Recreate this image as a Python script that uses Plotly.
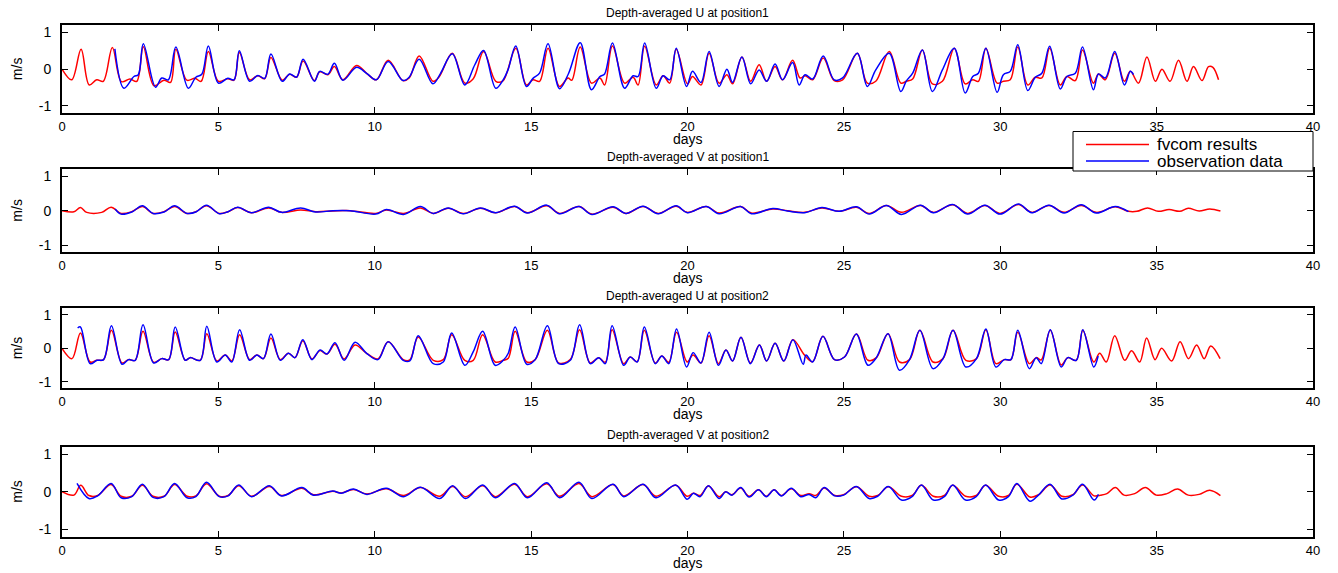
import plotly.graph_objects as go

# ---------------- data (days, m/s) ----------------
u1_fv_t = [0.0,0.31,0.61,0.87,1.11,1.32,1.61,1.9,2.17,2.39,2.6,2.94,3.26,3.47,3.64,3.99,4.25,4.45,4.68,5.0,5.3,5.5,5.67,6.0,6.26,6.48,6.68,7.04,7.28,7.5,7.71,8.07,8.24,8.5,8.71,8.98,9.42,9.75,10.05,10.43,10.9,11.1,11.42,11.86,12.05,12.48,12.88,13.15,13.48,13.87,14.1,14.51,14.85,15.06,15.27,15.54,15.91,16.18,16.3,16.57,16.93,17.2,17.35,17.6,17.99,18.26,18.42,18.63,19.0,19.22,19.43,19.64,20.0,20.16,20.43,20.69,21.01,21.26,21.44,21.74,22.02,22.29,22.53,22.8,23.04,23.36,23.6,23.76,24.0,24.34,24.69,24.96,25.43,25.75,26.02,26.45,26.82,27.0,27.2,27.51,27.83,28.15,28.53,28.88,29.12,29.3,29.54,29.9,30.1,30.32,30.56,30.88,31.12,31.33,31.58,31.92,32.13,32.4,32.63,32.98,33.14,33.36,33.66,33.97,34.16,34.42,34.69,34.96,35.17,35.43,35.7,35.97,36.18,36.45,36.66,36.8,36.98]
u1_fv_v = [0.0,-0.29,0.54,-0.43,-0.29,-0.33,0.59,-0.34,-0.27,-0.33,0.61,-0.45,-0.3,-0.36,0.54,-0.3,-0.25,-0.33,0.48,-0.33,-0.26,-0.3,0.45,-0.29,-0.18,-0.26,0.32,-0.3,-0.14,-0.22,0.22,-0.31,-0.07,-0.15,0.07,-0.29,0.1,-0.12,-0.29,0.24,-0.31,-0.24,0.36,-0.33,-0.22,0.43,-0.38,-0.26,0.48,-0.33,-0.32,0.57,-0.43,-0.29,-0.33,0.57,-0.47,-0.24,-0.3,0.6,-0.38,-0.24,-0.43,0.63,-0.38,-0.22,-0.43,0.62,-0.43,-0.18,-0.38,0.54,-0.4,-0.2,-0.43,0.43,-0.38,-0.15,-0.4,0.33,-0.33,0.12,-0.33,0.07,-0.29,0.24,-0.24,-0.18,-0.29,0.3,-0.31,-0.29,0.43,-0.38,-0.33,0.48,-0.38,-0.33,-0.27,0.52,-0.4,-0.33,0.57,-0.4,-0.29,-0.33,0.57,-0.38,-0.33,-0.29,0.6,-0.43,-0.22,-0.24,0.57,-0.43,-0.2,-0.31,0.52,-0.38,-0.13,-0.29,0.43,-0.33,-0.06,-0.38,0.33,-0.33,0.0,-0.33,0.24,-0.33,0.07,-0.31,0.07,0.05,-0.29]

u1_ob_t = [1.69,1.98,2.3,2.44,2.6,2.99,3.19,3.4,3.64,4.04,4.28,4.47,4.68,5.0,5.3,5.5,5.67,6.0,6.26,6.48,6.68,7.04,7.28,7.5,7.71,8.07,8.24,8.5,8.71,8.98,9.42,9.75,10.05,10.43,10.9,11.1,11.42,11.86,12.1,12.48,12.88,13.2,13.48,13.87,14.1,14.26,14.51,14.85,15.06,15.27,15.54,15.91,16.2,16.57,16.93,17.2,17.35,17.6,17.99,18.26,18.42,18.63,19.0,19.22,19.43,19.64,19.97,20.16,20.43,20.69,21.01,21.26,21.44,21.74,22.02,22.29,22.53,22.8,23.04,23.36,23.57,23.76,24.0,24.34,24.69,24.96,25.43,25.75,26.02,26.45,26.82,27.0,27.2,27.51,27.83,28.15,28.53,28.88,29.12,29.3,29.54,29.9,30.1,30.32,30.56,30.88,31.12,31.33,31.58,31.92,32.13,32.4,32.63,32.98,33.14,33.36,33.66,33.97,34.16,34.26]
u1_ob_v = [0.55,-0.52,-0.2,-0.15,0.69,-0.49,-0.24,-0.29,0.6,-0.52,-0.22,-0.14,0.63,-0.38,-0.25,-0.29,0.5,-0.33,-0.17,-0.25,0.41,-0.33,-0.13,-0.22,0.27,-0.33,-0.06,-0.14,0.16,-0.3,0.05,-0.12,-0.29,0.21,-0.31,-0.22,0.27,-0.4,-0.12,0.42,-0.43,0.12,0.51,-0.52,-0.3,-0.02,0.63,-0.47,-0.25,-0.11,0.69,-0.53,-0.11,0.72,-0.56,-0.2,-0.13,0.71,-0.52,-0.18,-0.2,0.71,-0.52,-0.18,-0.29,0.57,-0.47,-0.06,-0.36,0.48,-0.47,0.0,-0.36,0.33,-0.4,-0.02,-0.33,0.14,-0.29,0.18,-0.43,-0.15,-0.27,0.36,-0.29,-0.24,0.43,-0.47,-0.02,0.43,-0.61,-0.32,-0.11,0.52,-0.61,-0.02,0.57,-0.65,-0.2,-0.11,0.57,-0.63,-0.15,-0.06,0.66,-0.58,-0.22,-0.11,0.62,-0.54,-0.2,-0.11,0.6,-0.56,-0.13,-0.24,0.48,-0.43,-0.06,-0.15]

v1_fv_t = [0.0,0.38,0.59,0.79,1.27,1.57,1.89,2.23,2.57,2.91,3.26,3.6,4.0,4.28,4.62,5.03,5.31,5.62,6.06,6.61,7.02,7.63,8.11,8.66,9.21,10.03,10.37,10.92,11.46,11.87,12.35,12.83,13.38,13.86,14.47,14.88,15.5,15.91,16.53,16.94,17.62,18.03,18.58,19.06,19.64,19.99,20.6,21.01,21.7,22.04,22.73,23.2,23.75,24.3,24.85,25.4,25.81,26.36,26.84,27.45,27.86,28.48,28.96,29.51,29.99,30.58,31.01,31.56,32.04,32.59,33.07,33.68,34.1,34.37,34.71,35.05,35.4,35.74,36.01,36.36,36.7,37.04]
v1_fv_v = [0.0,-0.03,0.09,-0.05,-0.05,0.1,-0.08,-0.03,0.12,-0.08,-0.03,0.12,-0.08,-0.03,0.14,-0.08,-0.03,0.09,-0.06,0.08,-0.05,0.02,-0.03,-0.01,0.0,-0.08,0.02,-0.08,0.08,-0.08,0.07,-0.08,0.07,-0.06,0.12,-0.06,0.14,-0.08,0.12,-0.1,0.1,-0.08,0.12,-0.08,0.13,-0.05,0.12,-0.07,0.12,-0.07,0.05,0.0,-0.05,0.08,-0.02,0.1,-0.08,0.15,-0.05,0.15,-0.05,0.17,-0.08,0.15,-0.08,0.18,-0.05,0.15,-0.05,0.15,-0.05,0.11,-0.02,-0.02,0.08,-0.02,0.03,-0.02,0.07,-0.01,0.05,-0.01]

v1_ob_t = [1.7,1.89,2.23,2.57,2.91,3.26,3.6,4.0,4.28,4.62,5.03,5.31,5.62,6.06,6.61,7.02,7.63,8.11,8.66,9.21,10.03,10.37,10.92,11.46,11.87,12.35,12.83,13.38,13.86,14.47,14.88,15.5,15.91,16.53,16.94,17.62,18.03,18.58,19.06,19.64,19.99,20.6,21.01,21.7,22.04,22.73,23.2,23.75,24.3,24.85,25.4,25.81,26.36,26.84,27.45,27.86,28.48,28.96,29.51,29.99,30.58,31.01,31.56,32.04,32.59,33.07,33.68,34.1]
v1_ob_v = [0.05,-0.1,-0.04,0.14,-0.08,-0.04,0.14,-0.08,-0.04,0.16,-0.09,-0.03,0.1,-0.06,0.1,-0.05,0.08,-0.04,0.0,0.0,-0.1,0.03,-0.11,0.12,-0.08,0.08,-0.09,0.08,-0.06,0.13,-0.07,0.16,-0.09,0.12,-0.11,0.11,-0.08,0.13,-0.09,0.14,-0.06,0.12,-0.09,0.12,-0.09,0.06,-0.01,-0.06,0.09,-0.02,0.11,-0.1,0.15,-0.11,0.16,-0.06,0.18,-0.1,0.16,-0.1,0.19,-0.06,0.16,-0.07,0.17,-0.07,0.12,-0.03]

u2_fv_t = [0.0,0.32,0.59,0.9,1.12,1.33,1.58,1.92,2.13,2.34,2.59,2.93,3.19,3.41,3.62,3.94,4.1,4.42,4.63,4.95,5.22,5.43,5.68,6.0,6.23,6.44,6.68,6.98,7.24,7.45,7.7,7.99,8.25,8.47,8.73,9.02,9.37,9.74,10.1,10.43,10.91,11.12,11.39,11.87,12.19,12.46,12.88,13.15,13.45,13.85,14.11,14.27,14.49,14.86,15.13,15.52,15.88,16.25,16.55,16.89,17.16,17.37,17.59,17.96,18.17,18.39,18.62,18.97,19.18,19.4,19.65,19.99,20.18,20.43,20.69,20.99,21.23,21.44,21.71,22.01,22.3,22.53,22.8,23.08,23.37,23.74,24.0,24.33,24.7,25.02,25.4,25.77,26.04,26.41,26.78,27.1,27.43,27.85,28.17,28.49,28.9,29.24,29.54,29.86,30.13,30.34,30.56,30.93,31.15,31.31,31.6,31.95,32.16,32.43,32.64,32.99,33.18,33.39,33.66,33.98,34.2,34.46,34.68,34.95,35.16,35.48,35.75,36.02,36.28,36.52,36.73,37.03]
u2_fv_v = [0.0,-0.31,0.46,-0.41,-0.36,-0.34,0.54,-0.44,-0.34,-0.36,0.51,-0.42,-0.31,-0.34,0.49,-0.36,-0.28,-0.36,0.44,-0.38,-0.2,-0.38,0.41,-0.34,-0.2,-0.31,0.31,-0.34,-0.15,-0.28,0.23,-0.32,-0.07,-0.17,0.12,-0.32,0.1,-0.15,-0.32,0.2,-0.34,-0.35,0.34,-0.36,-0.34,0.41,-0.36,-0.36,0.41,-0.41,-0.36,-0.3,0.51,-0.41,-0.34,0.54,-0.44,-0.34,0.56,-0.44,-0.28,-0.42,0.56,-0.46,-0.26,-0.4,0.54,-0.44,-0.23,-0.42,0.48,-0.41,-0.2,-0.44,0.38,-0.46,-0.05,-0.38,0.33,-0.44,0.1,-0.38,0.15,-0.38,0.26,-0.2,-0.4,0.36,-0.34,-0.26,0.43,-0.36,-0.28,0.44,-0.41,-0.34,0.54,-0.41,-0.31,0.54,-0.36,-0.31,0.56,-0.46,-0.34,-0.34,0.48,-0.46,-0.28,-0.35,0.54,-0.5,-0.28,-0.36,0.54,-0.41,-0.15,-0.41,0.38,-0.36,-0.07,-0.41,0.31,-0.34,0.0,-0.38,0.2,-0.31,0.1,-0.31,0.07,-0.31]

u2_ob_t = [0.5,0.59,0.9,1.12,1.33,1.58,1.92,2.13,2.34,2.59,2.93,3.19,3.41,3.62,3.94,4.1,4.42,4.63,4.95,5.22,5.43,5.68,6.0,6.23,6.44,6.68,6.98,7.24,7.45,7.7,7.99,8.25,8.47,8.73,9.02,9.37,9.74,10.1,10.43,10.91,11.12,11.39,11.87,12.19,12.46,12.88,13.15,13.45,13.85,14.11,14.27,14.49,14.86,15.13,15.52,15.88,16.25,16.55,16.89,17.16,17.37,17.59,17.96,18.17,18.39,18.62,18.97,19.18,19.4,19.65,19.97,20.18,20.43,20.69,20.99,21.23,21.44,21.71,22.01,22.3,22.53,22.8,23.08,23.37,23.7,23.79,24.0,24.33,24.7,25.02,25.4,25.77,26.04,26.41,26.78,27.1,27.43,27.85,28.17,28.49,28.9,29.24,29.54,29.86,30.13,30.34,30.56,30.93,31.15,31.31,31.6,31.95,32.16,32.43,32.64,32.99,33.13]
u2_ob_v = [0.61,0.64,-0.46,-0.36,-0.34,0.68,-0.48,-0.34,-0.36,0.71,-0.44,-0.31,-0.34,0.64,-0.36,-0.28,-0.36,0.66,-0.41,-0.2,-0.41,0.56,-0.36,-0.2,-0.31,0.43,-0.36,-0.15,-0.28,0.26,-0.34,-0.05,-0.17,0.17,-0.36,0.18,-0.15,-0.34,0.2,-0.36,-0.38,0.38,-0.46,-0.41,0.46,-0.51,-0.1,0.51,-0.51,-0.36,-0.15,0.64,-0.48,-0.34,0.68,-0.46,-0.36,0.71,-0.46,-0.28,-0.46,0.68,-0.51,-0.26,-0.41,0.64,-0.46,-0.23,-0.46,0.58,-0.56,-0.13,-0.44,0.48,-0.51,-0.05,-0.38,0.33,-0.46,0.1,-0.38,0.15,-0.38,0.26,-0.48,-0.2,-0.41,0.36,-0.34,-0.26,0.43,-0.51,-0.28,0.44,-0.66,-0.34,0.54,-0.61,-0.31,0.54,-0.56,-0.31,0.58,-0.56,-0.34,-0.34,0.54,-0.61,-0.28,-0.46,0.56,-0.56,-0.28,-0.36,0.56,-0.56,-0.23]

v2_fv_t = [0.0,0.38,0.6,0.86,1.14,1.57,1.89,2.23,2.57,2.91,3.26,3.6,4.0,4.28,4.62,5.03,5.31,5.65,6.06,6.63,7.02,7.67,8.04,8.66,8.93,9.32,9.75,10.37,10.92,11.46,12.08,12.49,12.9,13.45,13.86,14.47,14.88,15.5,15.91,16.53,16.94,17.62,17.96,18.58,18.99,19.62,19.99,20.19,20.4,20.67,21.01,21.22,21.42,21.7,21.97,22.27,22.52,22.77,23.0,23.32,23.62,23.89,24.1,24.37,24.71,24.99,25.4,25.81,26.08,26.42,26.84,27.18,27.48,27.86,28.21,28.48,28.89,29.23,29.53,29.95,30.26,30.53,30.95,31.22,31.59,31.97,32.32,32.63,33.0,33.2,33.41,33.68,33.96,34.3,34.64,34.99,35.33,35.67,36.01,36.36,36.7,37.04]
v2_fv_v = [0.0,-0.09,0.17,-0.1,-0.1,0.19,-0.12,-0.12,0.17,-0.12,-0.12,0.19,-0.12,-0.11,0.21,-0.12,-0.1,0.16,-0.12,0.14,-0.1,0.09,-0.08,0.01,-0.03,0.06,-0.06,0.08,-0.1,0.11,-0.12,0.14,-0.13,0.16,-0.13,0.2,-0.13,0.21,-0.12,0.22,-0.13,0.19,-0.11,0.19,-0.12,0.17,-0.12,-0.04,-0.1,0.15,-0.13,0.0,-0.08,0.1,-0.12,0.05,-0.12,0.05,-0.1,0.08,-0.1,-0.05,-0.1,0.1,-0.1,-0.08,0.13,-0.12,-0.1,0.13,-0.12,-0.1,0.17,-0.12,-0.1,0.17,-0.12,-0.1,0.17,-0.12,-0.1,0.2,-0.14,-0.08,0.18,-0.12,-0.08,0.18,-0.11,-0.09,-0.05,0.11,-0.09,-0.05,0.11,-0.09,-0.05,0.07,-0.09,-0.07,0.04,-0.1]

v2_ob_t = [0.48,0.86,1.14,1.57,1.89,2.23,2.57,2.91,3.26,3.6,4.0,4.28,4.62,5.03,5.31,5.65,6.06,6.63,7.02,7.67,8.04,8.66,8.93,9.32,9.75,10.37,10.92,11.46,12.08,12.49,12.9,13.45,13.86,14.47,14.88,15.5,15.91,16.53,16.94,17.62,17.96,18.58,18.99,19.62,19.99,20.19,20.4,20.67,21.01,21.22,21.42,21.7,21.97,22.27,22.52,22.77,23.0,23.32,23.62,23.89,24.1,24.37,24.71,24.99,25.4,25.81,26.08,26.42,26.84,27.18,27.48,27.86,28.21,28.48,28.89,29.23,29.53,29.95,30.26,30.53,30.95,31.22,31.59,31.97,32.32,32.63,33.0,33.14]
v2_ob_v = [0.22,-0.18,-0.11,0.22,-0.16,-0.13,0.2,-0.15,-0.13,0.22,-0.16,-0.13,0.25,-0.13,-0.11,0.18,-0.13,0.16,-0.11,0.11,-0.09,0.02,-0.04,0.07,-0.07,0.09,-0.13,0.12,-0.18,0.16,-0.18,0.18,-0.16,0.22,-0.16,0.24,-0.16,0.25,-0.18,0.2,-0.13,0.2,-0.16,0.18,-0.2,-0.04,-0.13,0.16,-0.18,0.0,-0.09,0.11,-0.14,0.05,-0.13,0.05,-0.11,0.09,-0.13,-0.07,-0.16,0.11,-0.11,-0.09,0.14,-0.18,-0.12,0.14,-0.22,-0.13,0.18,-0.22,-0.13,0.18,-0.22,-0.13,0.18,-0.22,-0.13,0.22,-0.25,-0.09,0.2,-0.19,-0.09,0.2,-0.22,-0.07]

titles = ["Depth-averaged U at position1", "Depth-averaged V at position1",
          "Depth-averaged U at position2", "Depth-averaged V at position2"]
series_names = ["fvcom results", "observation data"]
x_ticks = [0, 5, 10, 15, 20, 25, 30, 35, 40]
y_ticks = [-1, 0, 1]

panels = [
    (u1_fv_t, u1_fv_v, u1_ob_t, u1_ob_v),
    (v1_fv_t, v1_fv_v, v1_ob_t, v1_ob_v),
    (u2_fv_t, u2_fv_v, u2_ob_t, u2_ob_v),
    (v2_fv_t, v2_fv_v, v2_ob_t, v2_ob_v),
]

# ---------------- layout geometry ----------------
# the page body's default 8 px margin is removed (post_script), so the figure fills the window
W, H = 1338, 573
ML, MR, MT, MB = 62, 25, 25, 36
PW, PH = W - ML - MR, H - MT - MB
# pixel top/bottom of each axes box
boxes = [(25.0, 113.3), (169.3, 252.0), (308.3, 388.3), (446.5, 537.0)]

def py(ypx):   # pixel y -> paper
    return (537.0 - ypx) / PH

def px(xpx):   # pixel x -> paper
    return (xpx - 62.0) / PW

FONT = "Liberation Sans, Arial, Helvetica, sans-serif"
RED = "#ff0000"
BLUE = "#0000ff"

fig = go.Figure()
layout = dict(
    width=W, height=H,
    margin=dict(l=ML, r=MR, t=MT, b=MB, pad=0),
    paper_bgcolor="white", plot_bgcolor="white",
    font=dict(family=FONT, size=13, color="black"),
    showlegend=False,
    annotations=[], shapes=[],
)

for i, (ft, fv, ot, ov) in enumerate(panels):
    k = "" if i == 0 else str(i + 1)
    top, bot = boxes[i]
    layout["xaxis" + k] = dict(
        domain=[0, 1], anchor="y" + k, range=[0, 40],
        tickvals=x_ticks, ticktext=[str(v) for v in x_ticks],
        ticks="inside", ticklen=6, tickwidth=1, tickcolor="black",
        showline=True, linecolor="black", linewidth=2, mirror="ticks",
        showgrid=False, zeroline=False, ticklabelstandoff=0,
        tickfont=dict(family=FONT, size=13, color="black"),
    )
    layout["yaxis" + k] = dict(
        domain=[max(0, py(bot)), min(1, py(top))], anchor="x" + k, range=[-1.2, 1.2],
        tickvals=y_ticks, ticktext=[str(v) for v in y_ticks],
        ticks="inside", ticklen=6, tickwidth=1, tickcolor="black",
        showline=True, linecolor="black", linewidth=2, mirror="ticks",
        showgrid=False, zeroline=False, ticklabelstandoff=6,
        tickfont=dict(family=FONT, size=14, color="black"),
    )
    fig.add_trace(go.Scatter(
        x=ft, y=fv, mode="lines", name=series_names[0],
        line=dict(color=RED, width=1.5, shape="spline", smoothing=1.0),
        xaxis="x" + k, yaxis="y" + k,
    ))
    fig.add_trace(go.Scatter(
        x=ot, y=ov, mode="lines", name=series_names[1],
        line=dict(color=BLUE, width=1.5, shape="spline", smoothing=1.0),
        xaxis="x" + k, yaxis="y" + k,
    ))
    layout["annotations"].append(dict(
        text=titles[i], xref="paper", yref="paper", x=0.5, y=py(top - 12),
        xanchor="center", yanchor="middle", showarrow=False,
        font=dict(family=FONT, size=12, color="black"),
    ))
    layout["annotations"].append(dict(
        text="days", xref="paper", yref="paper", x=px(688), y=py(bot + 26),
        xanchor="center", yanchor="middle", showarrow=False,
        font=dict(family=FONT, size=14, color="black"),
    ))
    layout["annotations"].append(dict(
        text="m/s", xref="paper", yref="paper", x=px(17), y=py((top + bot) / 2),
        xanchor="center", yanchor="middle", showarrow=False, textangle=-90,
        font=dict(family=FONT, size=14, color="black"),
    ))

# legend box (MATLAB style) drawn on the paper
colors = [RED, BLUE]
layout["shapes"].append(dict(
    type="rect", xref="paper", yref="paper", layer="above",
    x0=px(1073), x1=px(1313), y0=py(171), y1=py(131.5),
    line=dict(color="black", width=1), fillcolor="white",
))
for j, name in enumerate(series_names):
    yy = py(144.5 + 16.5 * j)
    layout["shapes"].append(dict(
        type="line", xref="paper", yref="paper", layer="above",
        x0=px(1086), x1=px(1149), y0=yy, y1=yy,
        line=dict(color=colors[j], width=1.5),
    ))
    layout["annotations"].append(dict(
        text=name, xref="paper", yref="paper", x=px(1155), y=yy,
        xanchor="left", yanchor="middle", showarrow=False,
        font=dict(family=FONT, size=17, color="black"),
    ))

fig.update_layout(**layout)
fig.write_html(
    "out.html",
    config={"displayModeBar": False},
    post_script="document.body.style.margin='0';document.body.style.overflow='hidden';",
)
